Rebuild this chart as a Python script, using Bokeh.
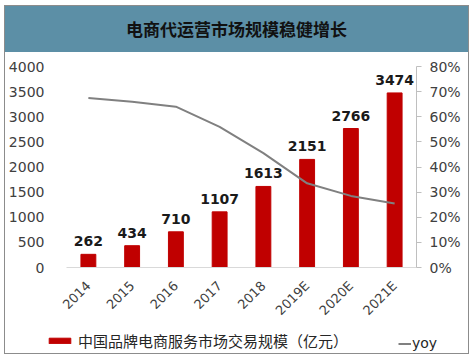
from math import pi
from bokeh.plotting import figure
from bokeh.layouts import column, row
from bokeh.models import (Range1d, LinearAxis, FixedTicker, NumeralTickFormatter, Div,
                          Legend, LegendItem, ColumnDataSource, LabelSet)
from bokeh.core.properties import value
from bokeh.embed import file_html
from bokeh.resources import INLINE

years = ["2014", "2015", "2016", "2017", "2018", "2019E", "2020E", "2021E"]
scale = [262, 434, 710, 1107, 1613, 2151, 2766, 3474]
yoy = [0.675, 0.66, 0.64, 0.56, 0.455, 0.335, 0.285, 0.255]
left_ticks = [0, 500, 1000, 1500, 2000, 2500, 3000, 3500, 4000]
right_ticks = [0, 0.1, 0.2, 0.3, 0.4, 0.5, 0.6, 0.7, 0.8]
title_text = "电商代运营市场规模稳健增长"
bar_label = "中国品牌电商服务市场交易规模（亿元）"
line_label = "yoy"

BAR_COLOR = "#c00000"
LINE_COLOR = "#808080"
TICK_FONT = "DejaVu Sans"
TICK_COLOR = "#404040"
W = 463

src = ColumnDataSource(dict(x=years, v=scale, t=[str(s) for s in scale], r=yoy))

title = Div(text=title_text, width=W, height=46, margin=0,
            styles={"background-color": "#5c8fa6", "color": "#111111",
                    "font-family": "Noto Sans CJK SC", "font-weight": "bold",
                    "font-size": "17px", "text-align": "center",
                    "line-height": "46px", "width": f"{W}px", "height": "46px"})

p = figure(x_range=years, y_range=Range1d(0, 4000), width=W, height=274, margin=0,
           output_backend="svg", toolbar_location=None,
           min_border_left=60, min_border_right=52, min_border_top=14, min_border_bottom=57)
p.outline_line_color = None
p.grid.visible = False
p.extra_y_ranges = {"pct": Range1d(0, 0.8)}

bars = p.vbar(x="x", top="v", width=0.34, color=BAR_COLOR, source=src)
line = p.line(x="x", y="r", y_range_name="pct", line_color=LINE_COLOR, line_width=2, source=src)

labels = LabelSet(x="x", y="v", text="t", source=src, text_align="center", y_offset=8,
                  text_font=value(TICK_FONT), text_font_style="bold", text_font_size="14px",
                  text_color="#1a1a1a")
p.add_layout(labels)

ya = p.yaxis[0]
ya.ticker = FixedTicker(ticks=left_ticks)
ya.axis_line_color = None
ya.major_tick_line_color = None
ya.minor_tick_line_color = None
ya.major_label_standoff = 16
ya.major_label_text_font = TICK_FONT
ya.major_label_text_font_size = "14px"
ya.major_label_text_color = TICK_COLOR

ra = LinearAxis(y_range_name="pct", ticker=FixedTicker(ticks=right_ticks),
                formatter=NumeralTickFormatter(format="0%"))
ra.axis_line_color = "#bfbfbf"
ra.major_tick_line_color = "#bfbfbf"
ra.major_tick_in = 0
ra.major_tick_out = 5
ra.minor_tick_line_color = None
ra.major_label_standoff = 8
ra.major_label_text_font = TICK_FONT
ra.major_label_text_font_size = "14px"
ra.major_label_text_color = TICK_COLOR
p.add_layout(ra, "right")

xa = p.xaxis[0]
xa.axis_line_color = "#d9d9d9"
xa.major_tick_line_color = None
xa.minor_tick_line_color = None
xa.major_label_orientation = pi / 4
xa.major_label_standoff = 10
xa.major_label_text_font = TICK_FONT
xa.major_label_text_font_size = "13px"
xa.major_label_text_color = TICK_COLOR

# legend strip: swatch renderers reuse the data but lie outside this strip's visible range
lg = figure(width=W, height=27, margin=0, output_backend="svg", toolbar_location=None,
            x_range=years, y_range=Range1d(5000, 6000),
            x_axis_type=None, y_axis_type=None,
            min_border_left=0, min_border_right=0, min_border_top=0, min_border_bottom=0)
lg.outline_line_color = None
lg.grid.visible = False
sw_bar = lg.vbar(x="x", top="v", width=0.34, color=BAR_COLOR, source=src)
sw_line = lg.line(x="x", y="r", line_color=LINE_COLOR, line_width=2, source=src)

leg1 = Legend(items=[LegendItem(label=bar_label, renderers=[sw_bar])],
              location=(41, 2), glyph_width=27, glyph_height=7,
              label_text_font="Noto Sans CJK SC", label_text_font_size="15px",
              label_text_color="#262626", padding=0, margin=0, border_line_color=None,
              background_fill_alpha=0, label_standoff=5)
leg2 = Legend(items=[LegendItem(label=line_label, renderers=[sw_line])],
              location=(393, 2), glyph_width=13, glyph_height=7,
              label_text_font=TICK_FONT, label_text_font_size="14px",
              label_text_color="#262626", padding=0, margin=0, border_line_color=None,
              background_fill_alpha=0, label_standoff=1)
lg.add_layout(leg1)
lg.add_layout(leg2)

top = column(title, p, spacing=0, margin=0)
bottom = row(lg, spacing=0, margin=0)
layout = column(top, bottom, spacing=0, margin=0,
                styles={"border": "1px solid #8c8c8c", "margin-left": "4px", "margin-top": "5px"})

open("out.html", "w").write(file_html(layout, INLINE))
